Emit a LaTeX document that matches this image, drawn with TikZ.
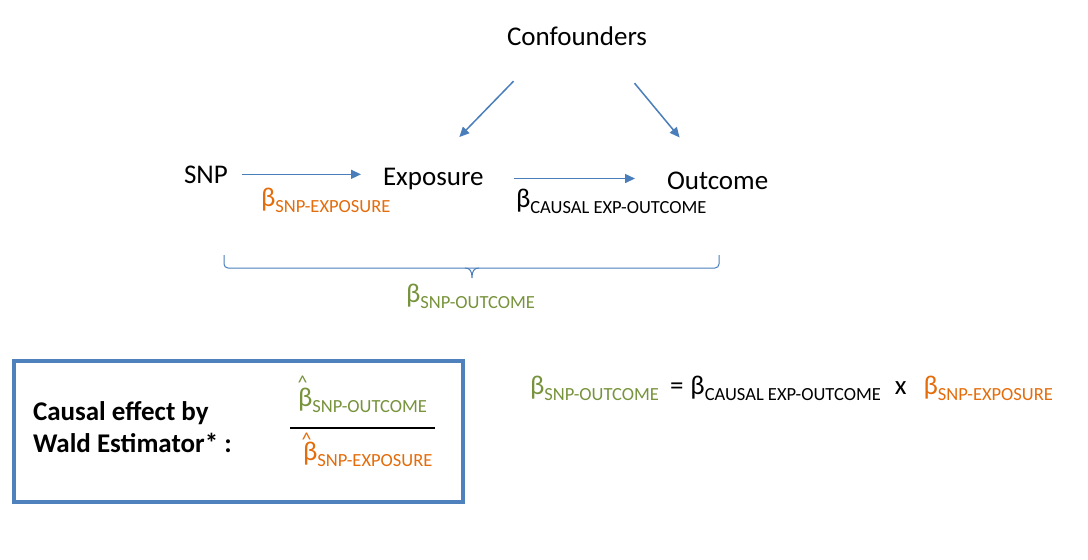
\documentclass[tikz,border=0pt]{standalone}
\usepackage{fontspec}
\setmainfont{Carlito}
\usetikzlibrary{arrows.meta,shadows}
\definecolor{lineblue}{HTML}{4A7EBB}
\definecolor{boxblue}{HTML}{4F81BD}
\definecolor{bgreen}{HTML}{77933C}
\definecolor{borange}{HTML}{E46C0A}
\newcommand{\bsub}[1]{{\fontsize{27}{27}\selectfont β\raisebox{-6pt}{\fontsize{18.5}{18.5}\selectfont #1}}}
% beta with a hat: #1 horizontal shift of the hat, #2 raise of the hat, #3 subscript
\newcommand{\hatbsub}[3]{{\fontsize{27}{27}\selectfont\makebox[0pt][l]{\hspace{#1}\raisebox{#2}{\fontsize{20}{20}\selectfont\textasciicircum}}β\raisebox{-6pt}{\fontsize{18.5}{18.5}\selectfont #3}}}
\begin{document}
\begin{tikzpicture}[x=1pt,y=-1pt,
  lbl/.style={inner sep=0pt,outer sep=0pt,anchor=base west,font=\fontsize{27}{27}\selectfont},
  wald/.style={lbl,font=\bfseries\fontsize{27}{27}\selectfont},
  arr/.style={draw=lineblue,line width=1.5pt,-{Triangle[length=10pt,width=9pt]}},
  bracestyle/.style={draw=lineblue,line width=1pt},
  estbox/.style={draw=boxblue,fill=white,line width=3.8pt,minimum width=449pt,minimum height=141pt,inner sep=0pt,
    drop shadow={shadow xshift=1.5pt,shadow yshift=-2pt,opacity=0.25}}]
\useasboundingbox (0,0) rectangle (1088,560);

% diagram nodes
\node[lbl] (conf) at (507,45) {Confounders};
\node[lbl] (snp) at (184,183) {SNP};
\node[lbl] (exp) at (383,185) {Exposure};
\node[lbl] (out) at (667,189) {Outcome};

% labels
\node[lbl,text=borange] (bse) at (261,206) {\bsub{SNP-EXPOSURE}};
\node[lbl] (bcausal) at (516,207) {\bsub{CAUSAL EXP-OUTCOME}};
\node[lbl,text=bgreen] (bso) at (406,302) {\bsub{SNP-OUTCOME}};

% arrows
\draw[arr] ([xshift=14pt]snp.east) -- ([xshift=-22pt]snp.east -| exp.west);
\draw[arr] ([xshift=30pt]exp.east) -- ([xshift=-32pt]exp.east -| out.west);
\draw[arr] ([xshift=-63.5pt,yshift=-36pt]conf.south) -- ([xshift=26pt,yshift=30.6pt]exp.north);
\draw[arr] ([xshift=57.5pt,yshift=-38pt]conf.south) -- ([xshift=-38pt,yshift=34pt]out.north);

% brace
\draw[bracestyle,rounded corners=4pt] (224,255) -- (224,268) -- (719,268) -- (719,255);
\draw[bracestyle] (465,268) .. controls (470,268) and (472,271) .. (472,278)
                  .. controls (472,271) and (474,268) .. (479,268);

% Wald estimator box
\node[estbox] (box) at (238.5,431.5) {};
\node[wald] (wald1) at (33,420) {Causal effect by};
\node[wald] (wald2) at (33,452) {Wald Estimator* :};
\node[lbl,text=bgreen] (num) at (298,406) {\hatbsub{-0.5pt}{17pt}{SNP-OUTCOME}};
\draw[line width=2.5pt] (290,428) -- (435,428);
\node[lbl,text=borange] (den) at (303,460) {\hatbsub{-1.5pt}{14pt}{SNP-EXPOSURE}};

% equation
\node[lbl] (eq) at (530,394) {\textcolor{bgreen}{\bsub{SNP-OUTCOME}}\hspace{11pt}=\hspace{7pt}\bsub{CAUSAL EXP-OUTCOME}\hspace{14pt}x\hspace{17pt}\textcolor{borange}{\bsub{SNP-EXPOSURE}}};
\end{tikzpicture}
\end{document}
